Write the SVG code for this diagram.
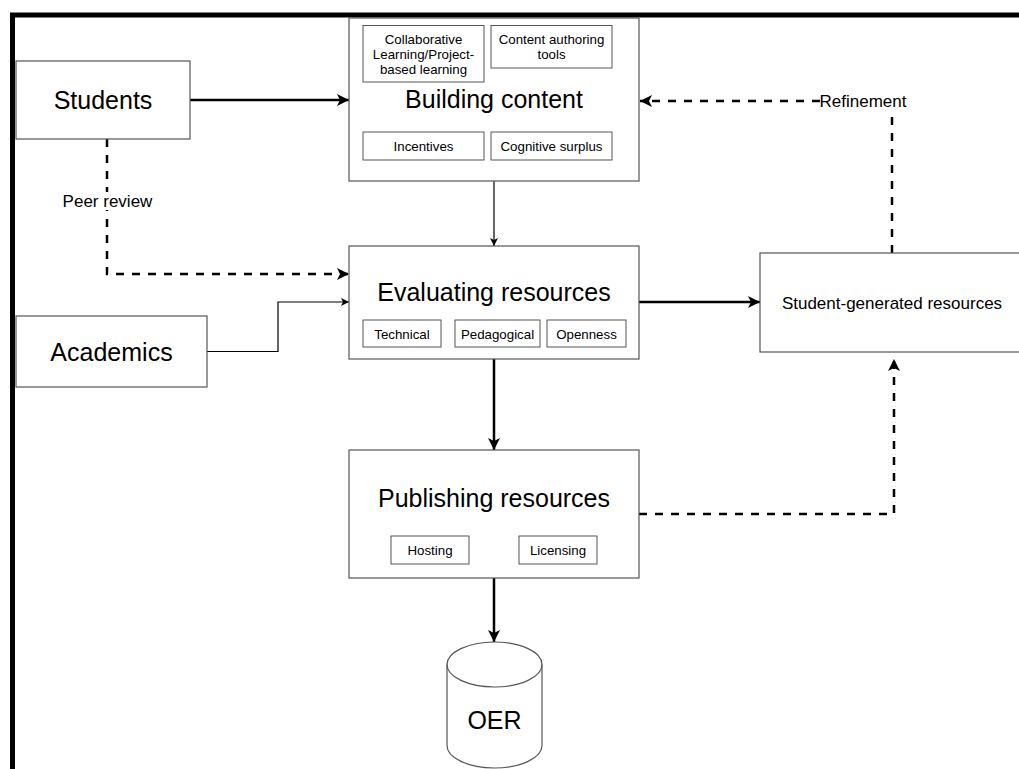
<svg xmlns="http://www.w3.org/2000/svg" width="1019" height="769" viewBox="0 0 1019 769">
<style>
text{font-family:"Liberation Sans",Arial,sans-serif;fill:#000;text-anchor:middle}
.box{fill:#fff;stroke:#555;stroke-width:1.2}
.sub{fill:#fff;stroke:#555;stroke-width:1}
.big{font-size:25px}
.mid{font-size:17px}
.sm{font-size:13.3px}
.thick{fill:none;stroke:#000;stroke-width:2.5}
.thin{fill:none;stroke:#000;stroke-width:1.2}
.dash{fill:none;stroke:#000;stroke-width:2.5;stroke-dasharray:8 8}
</style>
<defs>
<marker id="ah" markerUnits="userSpaceOnUse" markerWidth="14" markerHeight="14" refX="12" refY="6" orient="auto" viewBox="0 0 14 14">
<path d="M0,0 L12,6 L0,12 L3,6 Z" fill="#000"/>
</marker>
<marker id="ahs" markerUnits="userSpaceOnUse" markerWidth="10" markerHeight="10" refX="8" refY="4" orient="auto" viewBox="0 0 10 10">
<path d="M0,0 L8,4 L0,8 L2,4 Z" fill="#000"/>
</marker>
</defs>
<rect width="1019" height="769" fill="#fff"/>
<path d="M12.5,769 V15 H1019" fill="none" stroke="#000" stroke-width="5"/>

<g id="connectors">
<path class="thick" d="M190,100 H349" marker-end="url(#ah)"/>
<path class="dash" d="M107,139 V274 H349" marker-end="url(#ah)"/>
<path class="thin" d="M207,351.5 H278 V302 H349" marker-end="url(#ahs)"/>
<path class="thin" d="M494,181 V246" marker-end="url(#ahs)"/>
<path class="thick" d="M639,302 H760" marker-end="url(#ah)"/>
<path class="thick" d="M494,359 V450" marker-end="url(#ah)"/>
<path class="thick" d="M494,578 V642" marker-end="url(#ah)"/>
<path class="dash" d="M639,514 H894 V359" marker-end="url(#ah)"/>
<path class="dash" d="M892,253 V101 H640" marker-end="url(#ah)"/>
<rect x="820" y="92" width="87" height="19" fill="#fff"/>
<text class="mid" x="863" y="107">Refinement</text>
<rect x="63" y="192" width="89" height="18" fill="#fff"/>
<text class="mid" x="107.5" y="207">Peer review</text>
</g>

<g id="students">
<rect class="box" x="16" y="61" width="174" height="78"/>
<text class="big" x="103" y="109">Students</text>
</g>

<g id="academics">
<rect class="box" x="16" y="316" width="191" height="71"/>
<text class="big" x="111.5" y="360.5">Academics</text>
</g>

<g id="building-content">
<rect class="box" x="349" y="18" width="290" height="163"/>
<rect class="sub" x="363" y="25.5" width="121" height="56.5"/>
<text class="sm" x="423.5" y="43.5">Collaborative</text>
<text class="sm" x="423.5" y="58.5">Learning/Project-</text>
<text class="sm" x="423.5" y="73.5">based learning</text>
<rect class="sub" x="491" y="25.5" width="121" height="42.5"/>
<text class="sm" x="551.5" y="44">Content authoring</text>
<text class="sm" x="551.5" y="59">tools</text>
<text class="big" x="494" y="108">Building content</text>
<rect class="sub" x="363" y="132" width="121" height="28"/>
<text class="sm" x="423.5" y="150.7">Incentives</text>
<rect class="sub" x="491" y="132" width="121" height="28"/>
<text class="sm" x="551.5" y="150.7">Cognitive surplus</text>
</g>

<g id="evaluating-resources">
<rect class="box" x="349" y="246" width="290" height="113"/>
<text class="big" x="494" y="301">Evaluating resources</text>
<rect class="sub" x="363" y="320" width="78" height="27"/>
<text class="sm" x="402" y="338.5">Technical</text>
<rect class="sub" x="455" y="320" width="85" height="27"/>
<text class="sm" x="497.5" y="338.5">Pedagogical</text>
<rect class="sub" x="547" y="320" width="79" height="27"/>
<text class="sm" x="586.5" y="338.5">Openness</text>
</g>

<g id="student-generated-resources">
<rect class="box" x="760" y="253" width="300" height="99"/>
<text class="mid" x="892" y="308.5">Student-generated resources</text>
</g>

<g id="publishing-resources">
<rect class="box" x="349" y="450" width="290" height="128"/>
<text class="big" x="494" y="507">Publishing resources</text>
<rect class="sub" x="391" y="536" width="78" height="28"/>
<text class="sm" x="430" y="555">Hosting</text>
<rect class="sub" x="519" y="536" width="78" height="28"/>
<text class="sm" x="558" y="555">Licensing</text>
</g>

<g id="oer">
<path d="M447,664.5 A47.5,22.5 0 0 1 542,664.5 V745.5 A47.5,22.5 0 0 1 447,745.5 Z" fill="#fff" stroke="#555" stroke-width="1.2"/>
<path d="M447,664.5 A47.5,22.5 0 0 0 542,664.5" fill="none" stroke="#555" stroke-width="1.2"/>
<text class="big" x="494.5" y="729">OER</text>
</g>
</svg>
